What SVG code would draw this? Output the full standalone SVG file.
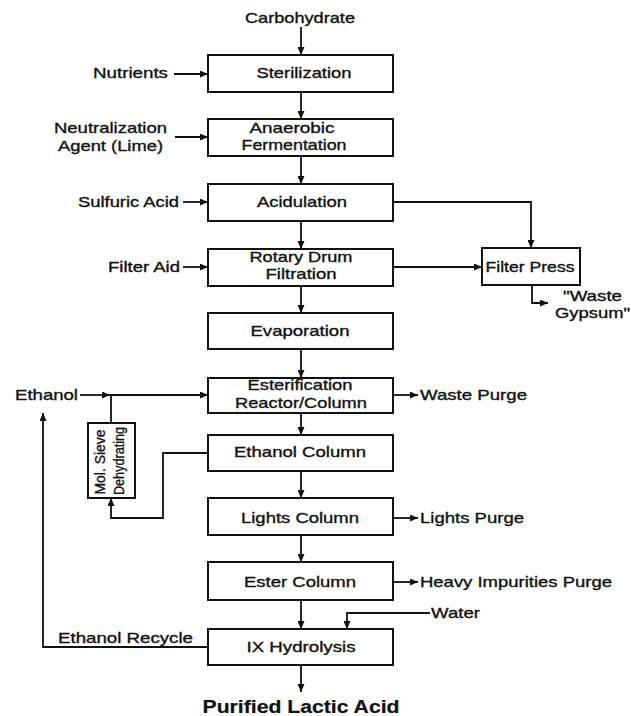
<svg xmlns="http://www.w3.org/2000/svg" width="631" height="716" viewBox="0 0 631 716">
  <style>
    .box { fill: #fff; stroke: #111; stroke-width: 2; }
    .wire { fill: none; stroke: #111; stroke-width: 1.8; }
    .arr { marker-end: url(#head); }
    text { font-family: "Liberation Sans", Arial, Helvetica, sans-serif; font-size: 15px; fill: #111; stroke: #111; stroke-width: 0.35; }
    .c { text-anchor: middle; }
    .small { font-size: 14px; }
    .title { font-weight: bold; font-size: 18px; stroke-width: 0.2; }
  </style>
  <defs>
    <marker id="head" markerUnits="userSpaceOnUse" markerWidth="8" markerHeight="7" refX="8" refY="3.5" orient="auto">
      <path d="M0,0 L8,3.5 L0,7 z" fill="#111"/>
    </marker>
  </defs>
  <rect width="631" height="716" fill="#fff"/>

  <!-- connectors -->
  <g id="connectors">
    <!-- main process line -->
    <line class="wire arr" x1="301" y1="27" x2="301" y2="55"/>
    <line class="wire arr" x1="301" y1="92" x2="301" y2="119"/>
    <line class="wire arr" x1="301" y1="156" x2="301" y2="184"/>
    <line class="wire arr" x1="301" y1="221" x2="301" y2="249"/>
    <line class="wire arr" x1="301" y1="286" x2="301" y2="313"/>
    <line class="wire arr" x1="301" y1="349" x2="301" y2="378"/>
    <line class="wire arr" x1="301" y1="413" x2="301" y2="435"/>
    <line class="wire arr" x1="301" y1="471" x2="301" y2="498"/>
    <line class="wire arr" x1="301" y1="535" x2="301" y2="562"/>
    <line class="wire arr" x1="301" y1="600" x2="301" y2="629"/>
    <line class="wire arr" x1="301" y1="665" x2="301" y2="692"/>
    <!-- feeds -->
    <line class="wire arr" x1="174" y1="74" x2="208" y2="74"/>
    <line class="wire arr" x1="175" y1="137" x2="208" y2="137"/>
    <line class="wire arr" x1="183" y1="202" x2="208" y2="202"/>
    <line class="wire arr" x1="183" y1="267" x2="208" y2="267"/>
    <!-- filter press -->
    <polyline class="wire arr" points="393,202 531,202 531,248"/>
    <line class="wire arr" x1="393" y1="267" x2="482" y2="267"/>
    <polyline class="wire arr" points="532,285 532,303 548,303"/>
    <!-- ethanol feed and sieve loop -->
    <line class="wire arr" x1="80" y1="395" x2="110" y2="395"/>
    <line class="wire arr" x1="110" y1="395" x2="208" y2="395"/>
    <line class="wire" x1="111" y1="395" x2="111" y2="423"/>
    <polyline class="wire arr" points="208,453 163,453 163,518 111,518 111,498"/>
    <!-- purges -->
    <line class="wire arr" x1="393" y1="395" x2="418" y2="395"/>
    <line class="wire arr" x1="393" y1="518" x2="418" y2="518"/>
    <line class="wire arr" x1="393" y1="582" x2="418" y2="582"/>
    <!-- water and recycle -->
    <polyline class="wire arr" points="430,613 347,613 347,629"/>
    <polyline class="wire arr" points="208,647 43,647 43,413"/>
  </g>

  <!-- process units -->
  <g id="sterilization">
    <rect class="box" x="208" y="55" width="185" height="37"/>
    <text class="c" x="304" y="78" textLength="95" lengthAdjust="spacingAndGlyphs">Sterilization</text>
  </g>
  <g id="fermentation">
    <rect class="box" x="208" y="119" width="185" height="37"/>
    <text class="c" x="292" y="133" textLength="85" lengthAdjust="spacingAndGlyphs">Anaerobic</text>
    <text class="c" x="294" y="150" textLength="105" lengthAdjust="spacingAndGlyphs">Fermentation</text>
  </g>
  <g id="acidulation">
    <rect class="box" x="208" y="184" width="185" height="37"/>
    <text class="c" x="302" y="207" textLength="90" lengthAdjust="spacingAndGlyphs">Acidulation</text>
  </g>
  <g id="rotary-drum">
    <rect class="box" x="208" y="249" width="185" height="37"/>
    <text class="c" x="301" y="262" textLength="103" lengthAdjust="spacingAndGlyphs">Rotary Drum</text>
    <text class="c" x="301" y="279" textLength="71" lengthAdjust="spacingAndGlyphs">Filtration</text>
  </g>
  <g id="filter-press">
    <rect class="box" x="482" y="248" width="98" height="37"/>
    <text class="c" x="530" y="272" textLength="89" lengthAdjust="spacingAndGlyphs">Filter Press</text>
  </g>
  <g id="evaporation">
    <rect class="box" x="208" y="313" width="185" height="36"/>
    <text class="c" x="300" y="336" textLength="99" lengthAdjust="spacingAndGlyphs">Evaporation</text>
  </g>
  <g id="esterification">
    <rect class="box" x="208" y="378" width="185" height="35"/>
    <text class="c" x="300" y="390" textLength="105" lengthAdjust="spacingAndGlyphs">Esterification</text>
    <text class="c" x="301" y="408" textLength="132" lengthAdjust="spacingAndGlyphs">Reactor/Column</text>
  </g>
  <g id="mol-sieve">
    <rect class="box" x="88" y="423" width="47" height="75"/>
    <text class="c small" transform="translate(105,462) rotate(-90)" x="0" y="0" textLength="65" lengthAdjust="spacingAndGlyphs">Mol. Sieve</text>
    <text class="c small" transform="translate(124,461) rotate(-90)" x="0" y="0" textLength="68" lengthAdjust="spacingAndGlyphs">Dehydrating</text>
  </g>
  <g id="ethanol-column">
    <rect class="box" x="208" y="435" width="185" height="36"/>
    <text class="c" x="300" y="457" textLength="132" lengthAdjust="spacingAndGlyphs">Ethanol Column</text>
  </g>
  <g id="lights-column">
    <rect class="box" x="208" y="498" width="185" height="37"/>
    <text class="c" x="300" y="523" textLength="118" lengthAdjust="spacingAndGlyphs">Lights Column</text>
  </g>
  <g id="ester-column">
    <rect class="box" x="208" y="562" width="185" height="38"/>
    <text class="c" x="300" y="587" textLength="112" lengthAdjust="spacingAndGlyphs">Ester Column</text>
  </g>
  <g id="ix-hydrolysis">
    <rect class="box" x="208" y="629" width="185" height="36"/>
    <text class="c" x="301" y="652" textLength="109" lengthAdjust="spacingAndGlyphs">IX Hydrolysis</text>
  </g>

  <!-- stream labels -->
  <g id="labels">
    <text class="c" x="300" y="23" textLength="110" lengthAdjust="spacingAndGlyphs">Carbohydrate</text>
    <text x="93" y="78" textLength="75" lengthAdjust="spacingAndGlyphs">Nutrients</text>
    <text x="54" y="133" textLength="113" lengthAdjust="spacingAndGlyphs">Neutralization</text>
    <text x="58" y="151" textLength="105" lengthAdjust="spacingAndGlyphs">Agent (Lime)</text>
    <text x="78" y="207" textLength="101" lengthAdjust="spacingAndGlyphs">Sulfuric Acid</text>
    <text x="108" y="272" textLength="72" lengthAdjust="spacingAndGlyphs">Filter Aid</text>
    <text x="563" y="301" textLength="59" lengthAdjust="spacingAndGlyphs">"Waste</text>
    <text x="555" y="318" textLength="75" lengthAdjust="spacingAndGlyphs">Gypsum"</text>
    <text x="15" y="400" textLength="63" lengthAdjust="spacingAndGlyphs">Ethanol</text>
    <text x="420" y="400" textLength="107" lengthAdjust="spacingAndGlyphs">Waste Purge</text>
    <text x="420" y="523" textLength="104" lengthAdjust="spacingAndGlyphs">Lights Purge</text>
    <text x="420" y="587" textLength="192" lengthAdjust="spacingAndGlyphs">Heavy Impurities Purge</text>
    <text x="431" y="618" textLength="49" lengthAdjust="spacingAndGlyphs">Water</text>
    <text x="58" y="643" textLength="135" lengthAdjust="spacingAndGlyphs">Ethanol Recycle</text>
    <text class="c title" x="301" y="713" textLength="197" lengthAdjust="spacingAndGlyphs">Purified Lactic Acid</text>
  </g>
</svg>
